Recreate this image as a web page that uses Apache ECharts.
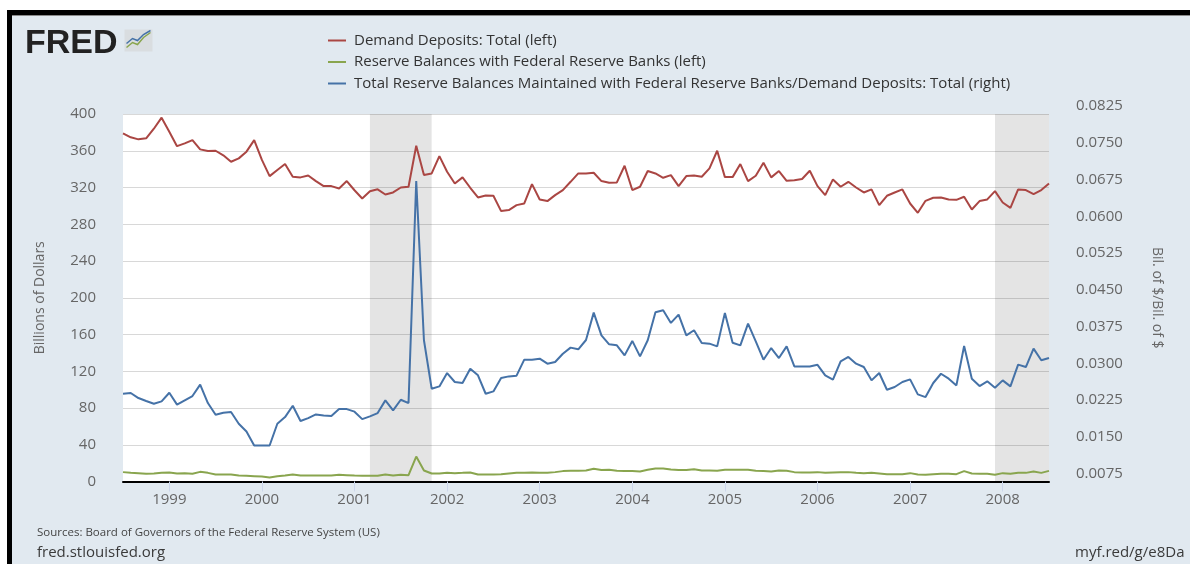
<!DOCTYPE html>
<html>
<head>
<meta charset="utf-8">
<script src="https://cdn.jsdelivr.net/npm/echarts@6/dist/echarts.min.js"></script>
<style>
  html, body { margin: 0; padding: 0; background: #ffffff; }
  #frame { position: absolute; left: 7px; top: 10px; width: 1183px; height: 554px;
           box-sizing: border-box; border-top: 5px solid #000; border-left: 5px solid #000;
           background: #e1e9f0; }
  #frame::before { content: ""; position: absolute; left: 0; right: 0; top: 0; height: 1px; background: #8a8a8a; }
  #chart { position: absolute; left: 0; top: 0; width: 1190px; height: 564px; }
</style>
</head>
<body>
<div id="frame"></div>
<div id="chart"></div>
<script>
// Monthly observations, 1998-07 .. 2008-07
const startYear = 1998, startMonth = 7, monthCount = 121;

// Demand Deposits: Total (left), billions of dollars
const demandDeposits = [
  379, 374.6, 372.4, 373.5, 384, 396, 380.7, 365, 368, 371.6,
  361.5, 359.7, 360, 355, 348, 351.7, 359, 371.6, 350, 332.4,
  339, 345.5, 331.7, 331, 333, 327, 321.5, 321.5, 319, 327,
  317, 308, 316, 318, 312.4, 314.6, 320, 320.8, 365.5, 333.5,
  335.3, 354.2, 337.1, 324.4, 331, 319.7, 309.2, 311.3, 311, 294.3,
  295.4, 300.8, 302.6, 323.7, 307, 305.2, 311.7, 317.2, 326.2, 335.3,
  335.3, 336, 327, 325.2, 325.5, 343.7, 317.2, 320.8, 337.9, 335.3,
  330.6, 333.5, 321.5, 332.4, 333.1, 331.7, 340.8, 360, 331.3, 331.3,
  345.5, 327, 332.8, 347, 331, 337.9, 327.3, 328, 329.2, 338.2,
  321.5, 311.7, 328.8, 320.8, 326.2, 320, 314.6, 317.9, 300.8, 311,
  314.6, 317.9, 302.6, 292.5, 305.5, 308.8, 309.2, 307, 306.6, 309.9,
  296.1, 305.2, 307, 316.1, 303.7, 297.9, 317.9, 317.2, 312.8, 317.2, 324.4
];

// Reserve Balances with Federal Reserve Banks (left), billions of dollars
const reserveBalances = [
  10.2, 9.4, 9.1, 8.4, 8.7, 9.4, 9.8, 8.7, 9.1, 8.4,
  10.5, 9.4, 7.6, 7.6, 7.6, 6.5, 6.2, 5.8, 5.4, 4.4,
  5.8, 6.5, 7.6, 6.5, 6.5, 6.5, 6.5, 6.5, 7.3, 6.9,
  6.5, 6.2, 6.2, 6.2, 7.6, 6.5, 7.3, 6.9, 27.2, 12,
  8.7, 8.7, 9.4, 9.1, 9.4, 9.8, 7.6, 7.6, 7.6, 8,
  8.7, 9.4, 9.4, 9.8, 9.4, 9.4, 10.2, 11.3, 11.6, 11.6,
  12, 13.8, 12.4, 12.7, 11.6, 11.3, 11.3, 10.9, 12.7, 14.2,
  14.2, 13.1, 12.4, 12.4, 13.4, 12, 12, 11.6, 12.7, 12.7,
  12.7, 12.7, 11.6, 11.3, 10.9, 12, 11.6, 10.2, 9.8, 9.8,
  10.2, 9.4, 9.8, 10.2, 10.2, 9.4, 9.1, 9.4, 8.7, 8,
  8, 8, 9.1, 7.6, 7.3, 8, 8.4, 8.4, 8, 11.3,
  8.7, 8.4, 8.4, 7.3, 9.1, 8.4, 9.4, 9.4, 10.9, 9.4, 11.6
];

// Total Reserve Balances Maintained / Demand Deposits (right), ratio
const reserveRatio = [
  0.02541, 0.02556, 0.02453, 0.02393, 0.02336, 0.02385, 0.02561, 0.02318, 0.02406, 0.02494,
  0.02726, 0.02351, 0.02113, 0.02153, 0.02168, 0.01929, 0.01772, 0.01485, 0.01485, 0.01485,
  0.01929, 0.02064, 0.02297, 0.01984, 0.02044, 0.02119, 0.02098, 0.02085, 0.02228, 0.02228,
  0.02175, 0.02023, 0.02078, 0.02147, 0.02406, 0.02201, 0.02419, 0.02351, 0.06881, 0.03632,
  0.02644, 0.02691, 0.02963, 0.02781, 0.02760, 0.03053, 0.02916, 0.02541, 0.02589, 0.02861,
  0.02895, 0.02910, 0.03236, 0.03236, 0.03257, 0.03154, 0.03188, 0.03358, 0.03482, 0.03448,
  0.03638, 0.04196, 0.03733, 0.03549, 0.03529, 0.03324, 0.03619, 0.03304, 0.03632, 0.04204,
  0.04245, 0.03986, 0.04157, 0.03733, 0.03836, 0.03578, 0.03563, 0.03508, 0.04191, 0.03583,
  0.03529, 0.03971, 0.03611, 0.03236, 0.03474, 0.03270, 0.03508, 0.03099, 0.03099, 0.03099,
  0.03131, 0.02916, 0.02828, 0.03203, 0.03291, 0.03154, 0.03086, 0.02814, 0.02964, 0.02623,
  0.02678, 0.02781, 0.02835, 0.02528, 0.02473, 0.02760, 0.02949, 0.02848, 0.02711, 0.03516,
  0.02848, 0.02698, 0.02794, 0.02664, 0.02814, 0.02691, 0.03135, 0.03086, 0.03461, 0.03223, 0.03270
];

// Recession periods (start month, end month)
const recessions = [['2001-03', '2001-11'], ['2007-12', '2008-07']];

const seriesNames = [
  'Demand Deposits: Total (left)',
  'Reserve Balances with Federal Reserve Banks (left)',
  'Total Reserve Balances Maintained with Federal Reserve Banks/Demand Deposits: Total (right)'
];
const leftTicks = { min: 0, max: 400, interval: 40 };
const rightTicks = { min: 0.0075, max: 0.0825, interval: 0.0075 };

const months = [];
for (let k = 0; k < monthCount; k++) {
  const t = (startMonth - 1) + k;
  const y = startYear + Math.floor(t / 12);
  const m = (t % 12) + 1;
  months.push(y + '-' + (m < 10 ? '0' + m : '' + m));
}
const isJanuary = (idx, val) => months[idx].slice(5) === '01';

const FONT = "'Open Sans', 'Noto Sans', sans-serif";
const chart = echarts.init(document.getElementById('chart'), null, { renderer: 'canvas' });

chart.setOption({
  backgroundColor: 'transparent',
  animation: false,
  textStyle: { fontFamily: FONT },
  grid: { left: 123, right: 141, top: 114, bottom: 82.5, show: true,
          backgroundColor: '#ffffff', borderWidth: 0 },
  legend: {
    orient: 'vertical', left: 328, top: 33, itemGap: 6.5, padding: 0,
    itemWidth: 18, itemHeight: 2, icon: 'rect',
    textStyle: { fontFamily: FONT, fontSize: 15, color: '#333333', padding: [0, 0, 0, 3] },
    data: seriesNames
  },
  xAxis: {
    type: 'category', data: months, boundaryGap: false,
    axisLine: { lineStyle: { color: '#000000', width: 2 } },
    axisTick: { show: true, interval: isJanuary, length: 10, lineStyle: { color: '#ccd6eb' } },
    axisLabel: { interval: isJanuary, formatter: v => v.slice(0, 4), margin: 11,
                 fontFamily: FONT, fontSize: 15, color: '#666666' },
    splitLine: { show: false }
  },
  yAxis: [
    {
      type: 'value', position: 'left', min: leftTicks.min, max: leftTicks.max, interval: leftTicks.interval,
      name: 'Billions of Dollars', nameLocation: 'middle', nameGap: 76,
      nameTextStyle: { fontFamily: FONT, fontSize: 14, color: '#666666' },
      axisLine: { show: false }, axisTick: { show: false },
      axisLabel: { margin: 27, fontFamily: FONT, fontSize: 15, color: '#666666' },
      splitLine: { show: true, lineStyle: { color: '#d8d8d8', width: 1 } }
    },
    {
      type: 'value', position: 'right', min: rightTicks.min, max: rightTicks.max, interval: rightTicks.interval,
      name: 'Bil. of $/Bil. of $', nameLocation: 'middle', nameGap: 101, nameRotate: -90,
      nameTextStyle: { fontFamily: FONT, fontSize: 14, color: '#666666' },
      axisLine: { show: false }, axisTick: { show: false },
      axisLabel: { margin: 27, fontFamily: FONT, fontSize: 15, color: '#666666',
                   verticalAlign: 'bottom', lineHeight: 16, formatter: v => v.toFixed(4) },
      splitLine: { show: false }
    }
  ],
  graphic: [
    { type: 'text', left: 25, top: 27, z: 10,
      style: { text: 'FRED', font: "bold 34px 'Liberation Sans', Arial, sans-serif", fill: '#222222' } },
    { type: 'group', left: 124, top: 28, z: 10, children: [
      { type: 'rect', shape: { x: 0, y: 0, width: 28, height: 22 },
        style: { fill: '#d9dde0' } },
      { type: 'polyline', shape: { points: [[2, 18], [8, 13], [13, 15], [19, 8], [26, 3]] },
        style: { stroke: '#89a54e', lineWidth: 1.5, fill: null } },
      { type: 'polyline', shape: { points: [[2, 14], [8, 9], [13, 11], [19, 5], [26, 1]] },
        style: { stroke: '#4572a7', lineWidth: 1.5, fill: null } }
    ]},
    { type: 'text', left: 37, top: 527, z: 10,
      style: { text: 'Sources: Board of Governors of the Federal Reserve System (US)',
               font: "11.5px 'Open Sans', sans-serif", fill: '#444444' } },
    { type: 'text', left: 37, top: 545, z: 10,
      style: { text: 'fred.stlouisfed.org', font: "15px 'Open Sans', sans-serif", fill: '#3a3a3a' } },
    { type: 'text', left: 1075, top: 545, z: 10,
      style: { text: 'myf.red/g/e8Da', font: "15px 'Open Sans', sans-serif", fill: '#3a3a3a' } }
  ],
  series: [
    {
      name: seriesNames[0], type: 'line', data: demandDeposits, yAxisIndex: 0,
      showSymbol: false, symbol: 'none', color: '#aa4643',
      lineStyle: { width: 2, color: '#aa4643' },
      markArea: {
        silent: true,
        itemStyle: { color: 'rgba(0,0,0,0.105)' },
        data: recessions.map(r => [{ xAxis: r[0] }, { xAxis: r[1] }])
      }
    },
    {
      name: seriesNames[1], type: 'line', data: reserveBalances, yAxisIndex: 0,
      showSymbol: false, symbol: 'none', color: '#89a54e',
      lineStyle: { width: 2, color: '#89a54e' }
    },
    {
      name: seriesNames[2], type: 'line', data: reserveRatio, yAxisIndex: 1,
      showSymbol: false, symbol: 'none', color: '#4572a7',
      lineStyle: { width: 2, color: '#4572a7' }
    }
  ]
});
</script>
</body>
</html>
